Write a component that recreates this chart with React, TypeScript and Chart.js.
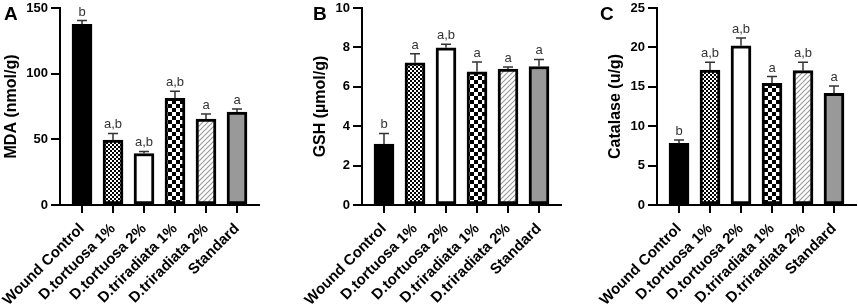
import React, { useEffect, useRef } from 'react';
import { Chart, registerables } from 'chart.js';

Chart.register(...registerables);

const categories = ['Wound Control', 'D.tortuosa 1%', 'D.tortuosa 2%', 'D.triradiata 1%', 'D.triradiata 2%', 'Standard'];

const mdaValues = [137.6, 49.5, 39.2, 81.2, 65.5, 70.8];
const mdaErrors = [2.8, 5.0, 1.6, 5.4, 3.8, 2.3];
const mdaLetters = ['b', 'a,b', 'a,b', 'a,b', 'a', 'a'];

const gshValues = [3.09, 7.22, 7.98, 6.76, 6.9, 7.03];
const gshErrors = [0.54, 0.46, 0.18, 0.5, 0.1, 0.36];
const gshLetters = ['b', 'a', 'a,b', 'a', 'a', 'a'];

const catValues = [7.83, 17.13, 20.2, 15.44, 17.05, 14.17];
const catErrors = [0.42, 0.97, 1.0, 0.86, 1.05, 0.93];
const catLetters = ['b', 'a,b', 'a,b', 'a', 'a,b', 'a'];

const FONT = '"Liberation Sans", Arial, sans-serif';

function makePattern(kind: string): CanvasPattern | string {
  const t = document.createElement('canvas');
  const ctx = t.getContext('2d')!;
  if (kind === 'fine') {
    t.width = 4; t.height = 4;
    ctx.fillStyle = '#fff'; ctx.fillRect(0, 0, 4, 4);
    ctx.fillStyle = '#000';
    ctx.fillRect(0, 0, 2, 2); ctx.fillRect(2, 2, 2, 2);
  } else if (kind === 'big') {
    t.width = 8; t.height = 8;
    ctx.fillStyle = '#fff'; ctx.fillRect(0, 0, 8, 8);
    ctx.fillStyle = '#000';
    ctx.fillRect(0, 0, 4, 4); ctx.fillRect(4, 4, 4, 4);
  } else {
    const s = 5;
    t.width = s; t.height = s;
    ctx.fillStyle = '#fff'; ctx.fillRect(0, 0, s, s);
    ctx.strokeStyle = '#999'; ctx.lineWidth = 1.1;
    ctx.beginPath();
    ctx.moveTo(-1, s + 1); ctx.lineTo(s + 1, -1);
    ctx.moveTo(-1, 1); ctx.lineTo(1, -1);
    ctx.moveTo(s - 1, s + 1); ctx.lineTo(s + 1, s - 1);
    ctx.stroke();
  }
  const p = ctx.createPattern(t, 'repeat');
  return p || '#fff';
}

type PanelProps = {
  letter: string;
  values: number[];
  errors: number[];
  letters: string[];
  yTitle: string;
  yMax: number;
  yStep: number;
  left: number;
  width: number;
  axisLeft: number;
  titlePad: number;
  letterX: number;
};

function Panel(props: PanelProps) {
  const ref = useRef<HTMLCanvasElement>(null);
  const { letter, values, errors, letters, yTitle, yMax, yStep, left, width, axisLeft, titlePad, letterX } = props;

  useEffect(() => {
    const canvas = ref.current!;
    const fills = ['#000', makePattern('fine'), '#fff', makePattern('big'), makePattern('hatch'), '#999'];

    const overlay = {
      id: 'errAndLetters',
      afterDatasetsDraw(chart: any) {
        const ctx = chart.ctx;
        const xs = chart.scales.x;
        const ys = chart.scales.y;
        ctx.save();
        values.forEach((v, i) => {
          const x = xs.getPixelForValue(i);
          const yTop = ys.getPixelForValue(v);
          const yErr = ys.getPixelForValue(v + errors[i]);
          ctx.strokeStyle = '#333';
          ctx.lineWidth = 1.5;
          ctx.beginPath();
          ctx.moveTo(x, yTop);
          ctx.lineTo(x, yErr);
          ctx.moveTo(x - 5, yErr);
          ctx.lineTo(x + 5, yErr);
          ctx.stroke();
          ctx.fillStyle = '#333';
          ctx.font = `13px ${FONT}`;
          ctx.textAlign = 'center';
          ctx.textBaseline = 'alphabetic';
          ctx.fillText(letters[i], x, yErr - 5);
        });
        ctx.fillStyle = '#000';
        ctx.font = `bold 19px ${FONT}`;
        ctx.textAlign = 'left';
        ctx.fillText(letter, letterX, 20);
        ctx.restore();
      },
    };

    const chart = new Chart(canvas, {
      type: 'bar',
      data: {
        datasets: [
          {
            data: values.map((v, i) => ({ x: i, y: v })),
            backgroundColor: fills as any,
            borderColor: '#000',
            borderWidth: 3,
            borderSkipped: false,
            barThickness: 20,
          } as any,
        ],
      },
      options: {
        responsive: false,
        animation: false,
        layout: { padding: { top: 8, right: width - axisLeft - 199, left: 0, bottom: 0 } },
        plugins: { legend: { display: false }, tooltip: { enabled: false } },
        scales: {
          x: {
            type: 'linear',
            min: -0.71,
            max: 5.71,
            offset: false,
            grid: { offset: false, drawOnChartArea: false, drawTicks: true, tickLength: 8, color: '#000', lineWidth: 2 },
            border: { display: true, color: '#000', width: 2 },
            afterBuildTicks: (s: any) => {
              s.ticks = categories.map((_, i) => ({ value: i }));
            },
            afterFit: (s: any) => {
              s.height = 99;
              s.paddingLeft = 0;
              s.paddingRight = 0;
            },
            ticks: {
              autoSkip: false,
              maxRotation: 45,
              minRotation: 45,
              padding: 7,
              color: '#000',
              font: { family: FONT, size: 15, weight: 'bold' },
              callback: (v: any) => categories[v as number] ?? '',
            },
          } as any,
          y: {
            min: 0,
            max: yMax,
            ticks: { stepSize: yStep, padding: 3, color: '#000', font: { family: FONT, size: 13, weight: 'bold' } },
            grid: { drawOnChartArea: false, drawTicks: true, tickLength: 9, color: '#000', lineWidth: 2 },
            border: { display: true, color: '#000', width: 2 },
            title: {
              display: true,
              text: yTitle,
              color: '#000',
              font: { family: FONT, size: 16, weight: 'bold' },
              padding: { top: titlePad, bottom: 0 },
            },
            afterFit: (s: any) => {
              s.width = axisLeft;
              s.paddingTop = 0;
              s.paddingBottom = 0;
            },
          } as any,
        },
      },
      plugins: [overlay],
    });
    return () => chart.destroy();
  }, []);

  return (
    <canvas
      ref={ref}
      width={width}
      height={304}
      style={{ position: 'absolute', left, top: 0, width, height: 304 }}
    />
  );
}

export default function App() {
  return (
    <div style={{ position: 'absolute', left: 0, top: 0, width: 858, height: 304, background: '#fff' }}>
      <Panel letter="A" values={mdaValues} errors={mdaErrors} letters={mdaLetters} yTitle="MDA (nmol/g)"
        yMax={150} yStep={50} left={0} width={263} axisLeft={60} titlePad={2.4} letterX={4} />
      <Panel letter="B" values={gshValues} errors={gshErrors} letters={gshLetters} yTitle="GSH (µmol/g)"
        yMax={10} yStep={2} left={290} width={275} axisLeft={72} titlePad={21.4} letterX={23} />
      <Panel letter="C" values={catValues} errors={catErrors} letters={catLetters} yTitle="Catalase (u/g)"
        yMax={25} yStep={5} left={580} width={278} axisLeft={77} titlePad={26.4} letterX={20} />
    </div>
  );
}
